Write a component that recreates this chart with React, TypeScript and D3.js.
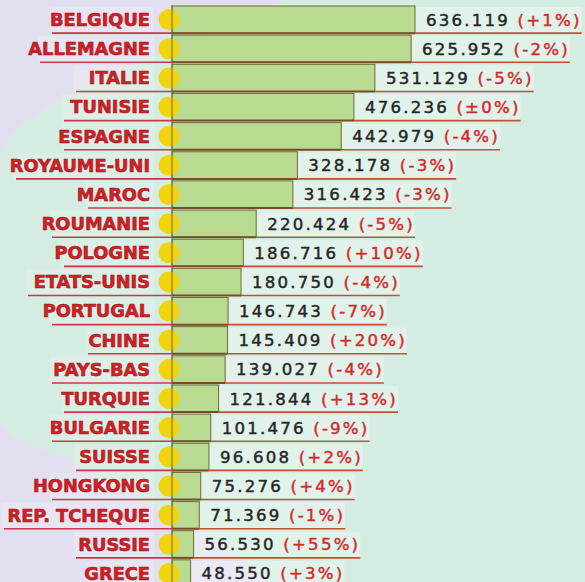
import React from "react";
import * as d3 from "d3";

const countries = ["BELGIQUE","ALLEMAGNE","ITALIE","TUNISIE","ESPAGNE","ROYAUME-UNI","MAROC","ROUMANIE","POLOGNE","ETATS-UNIS","PORTUGAL","CHINE","PAYS-BAS","TURQUIE","BULGARIE","SUISSE","HONGKONG","REP. TCHEQUE","RUSSIE","GRECE"];
const values = [636.119,625.952,531.129,476.236,442.979,328.178,316.423,220.424,186.716,180.75,146.743,145.409,139.027,121.844,101.476,96.608,75.276,71.369,56.53,48.55];
const valueLabels = ["636.119","625.952","531.129","476.236","442.979","328.178","316.423","220.424","186.716","180.750","146.743","145.409","139.027","121.844","101.476","96.608","75.276","71.369","56.530","48.550"];
const changes = ["(+1%)","(-2%)","(-5%)","(±0%)","(-4%)","(-3%)","(-3%)","(-5%)","(+10%)","(-4%)","(-7%)","(+20%)","(-4%)","(+13%)","(-9%)","(+2%)","(+4%)","(-1%)","(+55%)","(+3%)"];

const W = 585, H = 582;

export default function App() {
  const x = d3.scaleLinear().domain([0, 636.119]).range([172, 415]);
  const y = d3.scaleBand().domain(countries).range([5, 5 + 20 * 29.15]).padding(0);
  const bw = y.bandwidth();

  const bgPts: [number, number][] = [[300,-5],[170,48],[60,100],[2,150],[-12,290],[2,425],[70,460],[140,500],[205,535],[255,568],[275,590]];
  const curve = d3.line().curve(d3.curveCatmullRom)(bgPts) as string;
  const mint = curve + ` L ${W + 5},590 L ${W + 5},-5 Z`;

  const labelFont = "'DejaVu Sans', sans-serif";
  const valFont = "'DejaVu Sans', sans-serif";
  const valSize = 16.6;
  const ls = 2.2;

  const charW = (s: string) => {
    let w = 0;
    for (const c of s) {
      if (/[0-9]/.test(c)) w += 0.636;
      else if (c === ".") w += 0.318;
      else if (c === "(" || c === ")") w += 0.39;
      else if (c === "+" || c === "±") w += 0.838;
      else if (c === "-") w += 0.361;
      else if (c === "%") w += 0.95;
      else if (c === " ") w += 0.318;
      else w += 0.6;
    }
    return w * valSize + ls * s.length;
  };

  return (
    <svg width={W} height={H} style={{ position: "absolute", left: 0, top: 0 }}>
      <rect x={0} y={0} width={W} height={H} fill="#e2e0f0" />
      <path d={mint} fill="#d5ece2" />
      {countries.map((c, i) => {
        const top = y(c)!;
        const cy = top + bw / 2;
        const x1 = x(values[i]);
        const txt = valueLabels[i] + " ";
        const w1 = charW(txt);
        const w2 = charW(changes[i]);
        const tx = x1 + 11;
        const endX = tx + w1 + w2;
        const labelW = c.length * 12;
        return (
          <g key={c}>
            <rect x={150 - labelW - 4} y={top + 2} width={labelW + 8} height={bw - 3} fill="#ffffff" opacity={0.18} />
            <rect x={x1} y={top + 2} width={endX - x1} height={bw - 3} fill="#ffffff" opacity={0.3} />
            <rect x={x(0)} y={top + 1} width={x1 - x(0)} height={bw - 2} fill="#b9db91" stroke="#6e6a34" strokeWidth={1} />
            <line x1={150 - labelW - 2} x2={x(0)} y1={top + bw - 1} y2={top + bw - 1} stroke="#c8384a" strokeWidth={1.6} />
            <line x1={x(0)} x2={x1} y1={top + bw - 1} y2={top + bw - 1} stroke="#7a4a22" strokeWidth={2} />
            <line x1={x1} x2={endX} y1={top + bw - 1} y2={top + bw - 1} stroke="#c4502e" strokeWidth={1.6} />
            <circle cx={169} cy={cy} r={10.5} fill="#f2d40c" />
            <text x={150} y={cy + 6.4} textAnchor="end" fontFamily={labelFont} fontWeight="bold" fontSize={17.8} fill="#d41f26" stroke="#9a1418" strokeWidth={0.6}>{c}</text>
            <text x={tx} y={cy + 6} fontFamily={valFont} fontSize={valSize} letterSpacing={ls} fill="#262626" stroke="#262626" strokeWidth={0.45}>
              {txt}
              <tspan fill="#d42a2a" stroke="#d42a2a">{changes[i]}</tspan>
            </text>
          </g>
        );
      })}
      <line x1={x(0)} x2={x(0)} y1={5} y2={H} stroke="#6e6a34" strokeWidth={1} />
    </svg>
  );
}
